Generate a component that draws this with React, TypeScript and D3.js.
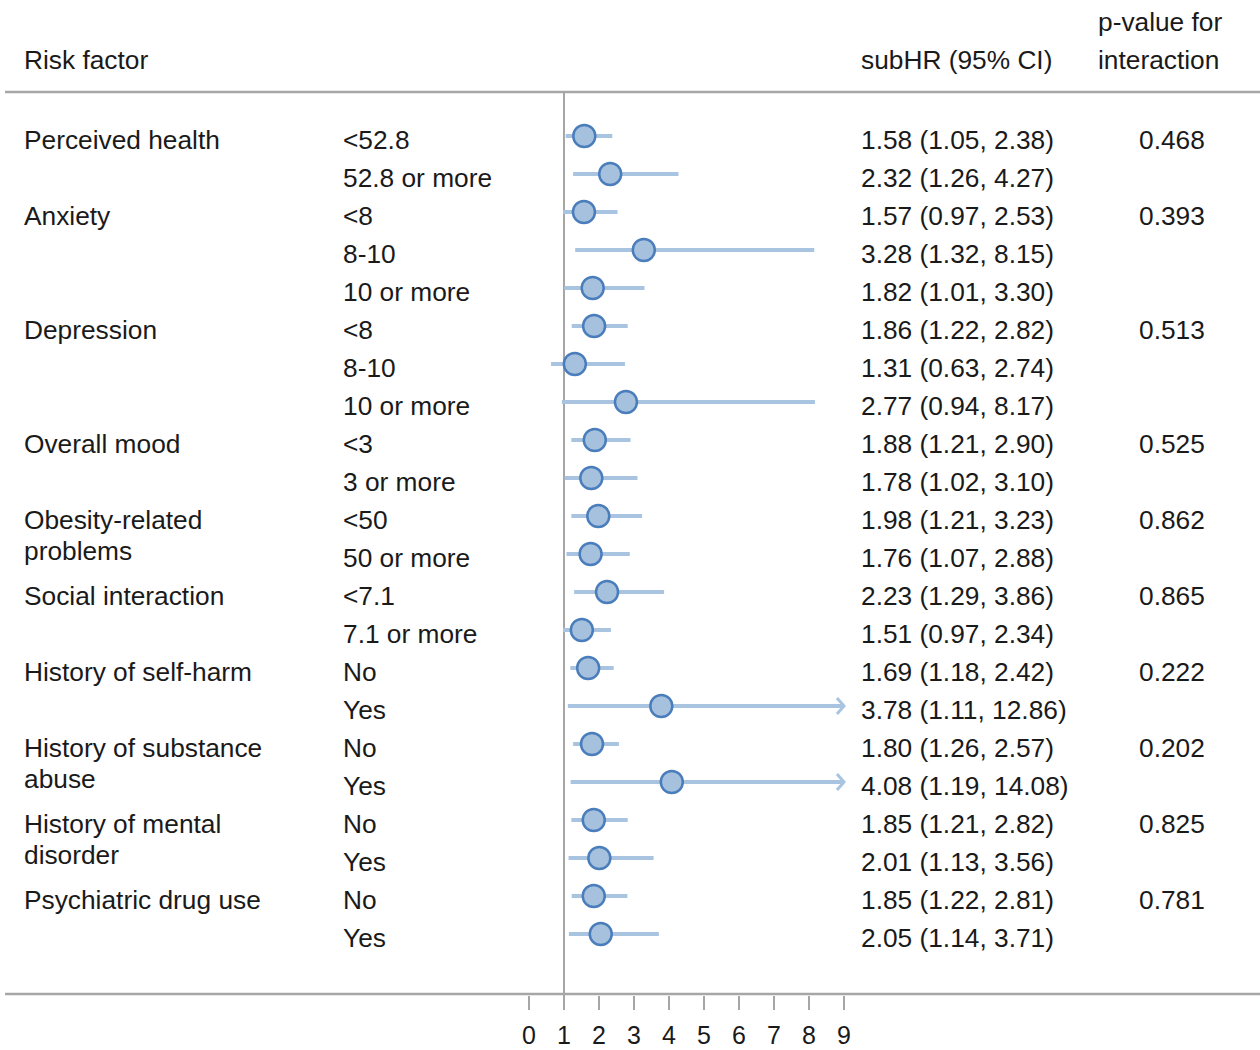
import React from 'react';
import * as d3 from 'd3';

// factor labels (multi-line where the original wraps) and the rows each one covers
const factors = [
  ['Perceived health'],
  ['Anxiety'],
  ['Depression'],
  ['Overall mood'],
  ['Obesity-related', 'problems'],
  ['Social interaction'],
  ['History of self-harm'],
  ['History of substance', 'abuse'],
  ['History of mental', 'disorder'],
  ['Psychiatric drug use'],
];
const factorRows = [2, 3, 3, 2, 2, 2, 2, 2, 2, 2];
const pValues = ['0.468', '0.393', '0.513', '0.525', '0.862', '0.865', '0.222', '0.202', '0.825', '0.781'];

const subgroups = [
  '<52.8', '52.8 or more',
  '<8', '8-10', '10 or more',
  '<8', '8-10', '10 or more',
  '<3', '3 or more',
  '<50', '50 or more',
  '<7.1', '7.1 or more',
  'No', 'Yes',
  'No', 'Yes',
  'No', 'Yes',
  'No', 'Yes',
];
const hr = [1.58, 2.32, 1.57, 3.28, 1.82, 1.86, 1.31, 2.77, 1.88, 1.78, 1.98, 1.76, 2.23, 1.51, 1.69, 3.78, 1.80, 4.08, 1.85, 2.01, 1.85, 2.05];
const lo = [1.05, 1.26, 0.97, 1.32, 1.01, 1.22, 0.63, 0.94, 1.21, 1.02, 1.21, 1.07, 1.29, 0.97, 1.18, 1.11, 1.26, 1.19, 1.21, 1.13, 1.22, 1.14];
const hi = [2.38, 4.27, 2.53, 8.15, 3.30, 2.82, 2.74, 8.17, 2.90, 3.10, 3.23, 2.88, 3.86, 2.34, 2.42, 12.86, 2.57, 14.08, 2.82, 3.56, 2.81, 3.71];
const xTicks = [0, 1, 2, 3, 4, 5, 6, 7, 8, 9];

const W = 1260;
const H = 1050;
const font = '"Liberation Sans", Arial, sans-serif';
const textColor = '#1a1a1a';
const gridColor = '#a6a6a6';
const ciColor = '#a9c4e0';
const dotFill = '#a6c1dd';
const dotStroke = '#4a7dbb';

export default function App() {
  const x = d3.scaleLinear().domain([0, 9]).range([529, 844]);
  const y = d3.scaleLinear().domain([0, subgroups.length - 1]).range([140, 938]);
  const xMax = x.domain()[1];

  // starting row index of each factor
  const starts = factorRows.map((_, i) => d3.sum(factorRows.slice(0, i)));

  const txt = { fontFamily: font, fontSize: 26.3, fill: textColor };

  return (
    <svg width={W} height={H} style={{ position: 'absolute', left: 0, top: 0, background: '#fff' }}>
      {/* header */}
      <text x={24} y={60} dy="0.35em" {...txt}>Risk factor</text>
      <text x={861} y={60} dy="0.35em" {...txt}>subHR (95% CI)</text>
      <text x={1098} y={22} dy="0.35em" {...txt}>p-value for</text>
      <text x={1098} y={60} dy="0.35em" {...txt}>interaction</text>
      <line x1={5} x2={W} y1={92} y2={92} stroke={gridColor} strokeWidth={2.5} />

      {/* reference line at 1 */}
      <line x1={x(1)} x2={x(1)} y1={92} y2={1010} stroke={gridColor} strokeWidth={2} />

      {/* factor labels and p-values */}
      {factors.map((lines, i) => (
        <g key={'f' + i}>
          {lines.map((l, j) => (
            <text key={j} x={24} y={y(starts[i]) + j * 31} dy="0.35em" {...txt}>{l}</text>
          ))}
          <text x={1139} y={y(starts[i])} dy="0.35em" {...txt}>{pValues[i]}</text>
        </g>
      ))}

      {/* rows */}
      {subgroups.map((s, i) => {
        const cy = y(i) - 4;
        const x1 = x(Math.max(lo[i], 0));
        const clipped = hi[i] > xMax;
        const x2 = x(Math.min(hi[i], xMax));
        return (
          <g key={'r' + i}>
            <text x={343} y={y(i)} dy="0.35em" {...txt}>{s}</text>
            <text x={861} y={y(i)} dy="0.35em" {...txt}>
              {`${hr[i].toFixed(2)} (${lo[i].toFixed(2)}, ${hi[i].toFixed(2)})`}
            </text>
            <line x1={x1} x2={x2} y1={cy} y2={cy} stroke={ciColor} strokeWidth={4} />
            {clipped && (
              <path
                d={`M${x2 - 7},${cy - 8} L${x2},${cy} L${x2 - 7},${cy + 8}`}
                fill="none"
                stroke={ciColor}
                strokeWidth={3}
              />
            )}
            <circle cx={x(hr[i])} cy={cy} r={11} fill={dotFill} stroke={dotStroke} strokeWidth={2.5} />
          </g>
        );
      })}

      {/* bottom axis */}
      <line x1={5} x2={W} y1={994} y2={994} stroke={gridColor} strokeWidth={2.5} />
      {xTicks.map(t => (
        <g key={'t' + t}>
          <line x1={x(t)} x2={x(t)} y1={996} y2={1010} stroke={gridColor} strokeWidth={2} />
          <text x={x(t)} y={1035} dy="0.35em" textAnchor="middle" {...txt} fontSize={25}>{t}</text>
        </g>
      ))}
    </svg>
  );
}
